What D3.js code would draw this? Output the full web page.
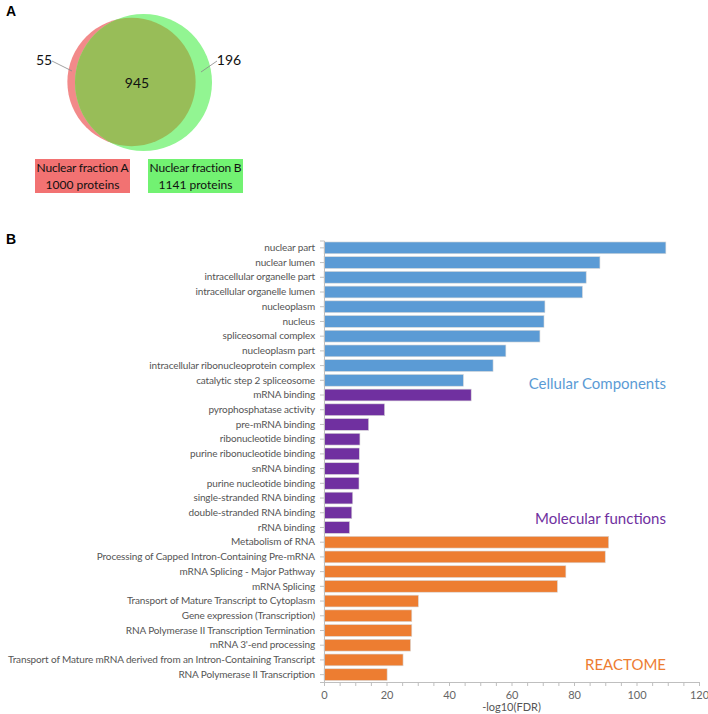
<!DOCTYPE html>
<html><head><meta charset="utf-8">
<script src="https://cdn.jsdelivr.net/npm/d3@7"></script>
<style>body{margin:0;background:#fff}svg{display:block}</style>
</head><body><svg id="c" width="708" height="714"></svg>
<script>
// ---- Data ----
const vennSets = ["Nuclear fraction A", "Nuclear fraction B"];
const vennTotals = [1000, 1141];
const vennCounts = [55, 945, 196]; // A only, both, B only

const ccTerms = ["nuclear part","nuclear lumen","intracellular organelle part","intracellular organelle lumen","nucleoplasm","nucleus","spliceosomal complex","nucleoplasm part","intracellular ribonucleoprotein complex","catalytic step 2 spliceosome"];
const ccValues = [109.4,88.3,83.9,82.7,70.7,70.4,69.1,58.2,54.1,44.6];
const mfTerms = ["mRNA binding","pyrophosphatase activity","pre-mRNA binding","ribonucleotide binding","purine ribonucleotide binding","snRNA binding","purine nucleotide binding","single-stranded RNA binding","double-stranded RNA binding","rRNA binding"];
const mfValues = [47.1,19.4,14.3,11.5,11.3,11.2,11.2,9.2,8.9,8.2];
const reTerms = ["Metabolism of RNA","Processing of Capped Intron-Containing Pre-mRNA","mRNA Splicing - Major Pathway","mRNA Splicing","Transport of Mature Transcript to Cytoplasm","Gene expression (Transcription)","RNA Polymerase II Transcription Termination","mRNA 3'-end processing","Transport of Mature mRNA derived from an Intron-Containing Transcript","RNA Polymerase II Transcription"];
const reValues = [91.1,90.0,77.4,74.7,30.2,28.1,28.1,27.7,25.3,20.2];
const groupNames = ["Cellular Components","Molecular functions","REACTOME"];
const xTicks = [0,20,40,60,80,100,120];
const xTitle = "-log10(FDR)";

const colors = ["#5B9BD5","#7030A0","#ED7D31"];
const FONT = "Lato, 'Open Sans', sans-serif";

const svg = d3.select("#c");

// ---- Panel A: Venn ----
svg.append("text").attr("x",6).attr("y",16).text("A")
  .attr("font-family","Arial, 'Liberation Sans', sans-serif").attr("font-weight","bold").attr("font-size",14);

const rScale = d3.scaleSqrt().domain([0,1141]).range([0,68.5]);
const circA = {cx:131.5, cy:82, r:rScale(vennTotals[0])};
const circB = {cx:143.5, cy:82.5, r:rScale(vennTotals[1])};
const venn = svg.append("g");
const defs = svg.append("defs");
defs.append("clipPath").attr("id","clipB").append("circle")
  .attr("cx",circB.cx).attr("cy",circB.cy).attr("r",circB.r);
venn.append("circle").attr("cx",circA.cx).attr("cy",circA.cy).attr("r",circA.r).attr("fill","#F28A8A");
venn.append("circle").attr("cx",circB.cx).attr("cy",circB.cy).attr("r",circB.r).attr("fill","#92F592");
venn.append("circle").attr("cx",circA.cx).attr("cy",circA.cy).attr("r",circA.r).attr("fill","#98BD58").attr("clip-path","url(#clipB)");

venn.append("line").attr("x1",52).attr("y1",61).attr("x2",72).attr("y2",71).attr("stroke","#888").attr("stroke-width",0.8);
venn.append("line").attr("x1",217).attr("y1",61).attr("x2",201).attr("y2",72).attr("stroke","#888").attr("stroke-width",0.8);
const vt = [{t:vennCounts[0],x:44,y:65,a:"middle"},{t:vennCounts[1],x:137,y:88,a:"middle"},{t:vennCounts[2],x:229,y:65,a:"middle"}];
venn.selectAll("text.vn").data(vt).join("text").attr("class","vn")
  .attr("x",d=>d.x).attr("y",d=>d.y).attr("text-anchor",d=>d.a)
  .attr("font-family",FONT).attr("font-size",14).attr("fill","#111").text(d=>d.t);

const legBoxes = [{x:35,fill:"#F27272"},{x:148,fill:"#72F272"}];
legBoxes.forEach((b,i)=>{
  svg.append("rect").attr("x",b.x).attr("y",159).attr("width",95).attr("height",34).attr("fill",b.fill);
  svg.append("text").attr("x",b.x+47.5).attr("y",172).attr("text-anchor","middle")
    .attr("font-family",FONT).attr("font-size",12).attr("letter-spacing",-0.2).attr("fill","#111").text(vennSets[i]);
  svg.append("text").attr("x",b.x+47.5).attr("y",189).attr("text-anchor","middle")
    .attr("font-family",FONT).attr("font-size",12).attr("fill","#111").text(vennTotals[i]+" proteins");
});

// ---- Panel B: bars ----
svg.append("text").attr("x",6).attr("y",244).text("B")
  .attr("font-family","Arial, 'Liberation Sans', sans-serif").attr("font-weight","bold").attr("font-size",14);

const rows = [];
[ [ccTerms,ccValues], [mfTerms,mfValues], [reTerms,reValues] ].forEach(([t,v],g)=>{
  t.forEach((name,i)=>rows.push({name, value:v[i], g}));
});

const x = d3.scaleLinear().domain([0,120]).range([324,699]);
const y = d3.scaleBand().domain(rows.map(d=>d.name)).range([240.5,682]).paddingInner(0.2).paddingOuter(0.1);

const gB = svg.append("g");
gB.selectAll("rect.bar").data(rows).join("rect").attr("class","bar")
  .attr("x",x(0)).attr("y",d=>y(d.name)).attr("width",d=>x(d.value)-x(0)).attr("height",y.bandwidth())
  .attr("fill",d=>colors[d.g]).attr("stroke","#d9d9d9").attr("stroke-width",0.6);

// y axis
const yAxis = gB.append("g").attr("transform",`translate(${x(0)},0)`)
  .call(d3.axisLeft(y).tickSize(4).tickPadding(5));
yAxis.select(".domain").attr("stroke","#bfbfbf");
yAxis.selectAll(".tick line").attr("stroke","#bfbfbf");
const yTexts = yAxis.selectAll(".tick text").attr("font-family",FONT).attr("font-size",10).attr("fill","#555");
// fit longest label into the available width via letter-spacing
let maxW = 0, maxN = 1;
yTexts.each(function(){ const w=this.getComputedTextLength(); if(w>maxW){maxW=w; maxN=this.textContent.length;} });
const ls = Math.min(0, (307 - maxW) / maxN);
yTexts.attr("letter-spacing", ls);

// x axis
const xAxis = gB.append("g").attr("transform",`translate(0,682)`)
  .call(d3.axisBottom(x).tickValues(d3.range(0,121,5)).tickSize(4).tickFormat(d=>xTicks.includes(d)?d:""));
xAxis.select(".domain").attr("stroke","#bfbfbf");
xAxis.selectAll(".tick line").attr("stroke","#bfbfbf");
xAxis.selectAll(".tick text").attr("font-family",FONT).attr("font-size",11).attr("fill","#666").attr("dy","0.9em");

gB.append("text").attr("x",x(60)).attr("y",711).attr("text-anchor","middle")
  .attr("font-family",FONT).attr("font-size",11).attr("fill","#555").text(xTitle);

// group labels
const gl = [{t:groupNames[0],y:389},{t:groupNames[1],y:524},{t:groupNames[2],y:670}];
gB.selectAll("text.gl").data(gl).join("text").attr("class","gl")
  .attr("x",666).attr("y",d=>d.y).attr("text-anchor","end")
  .attr("font-family",FONT).attr("font-size",15).attr("fill",(d,i)=>colors[i]).text(d=>d.t);
</script></body></html>
